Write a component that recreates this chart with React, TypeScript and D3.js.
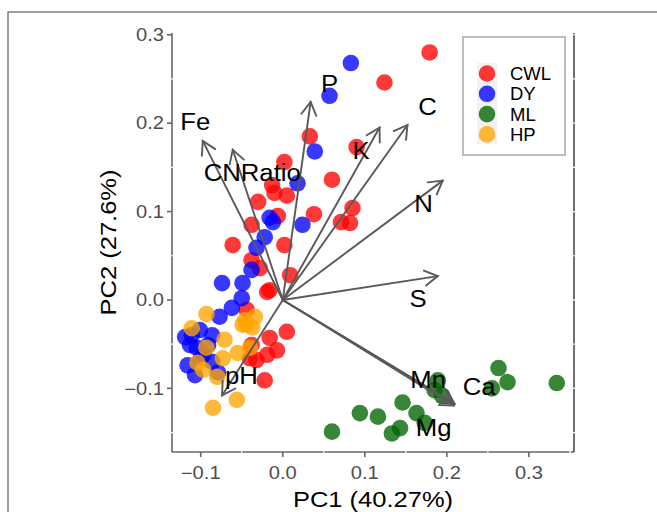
import React from 'react';
import * as d3 from 'd3';

const groups = ['CWL', 'DY', 'ML', 'HP'];
const groupColors = ['#ff0000', '#0000ff', '#006400', '#ffa500'];

const cwlPC1 = [0.179, 0.124, 0.033, 0.090, 0.060, 0.085, 0.038, 0.071, 0.082, 0.002, -0.013, -0.010, 0.005, -0.030, -0.006, -0.038, -0.061, 0.002, -0.038, -0.028, 0.009, -0.019, -0.016, -0.044, 0.005, -0.016, -0.007, -0.038, -0.019, -0.040, -0.032, -0.022];
const cwlPC2 = [0.280, 0.246, 0.185, 0.173, 0.136, 0.104, 0.097, 0.088, 0.087, 0.156, 0.130, 0.121, 0.118, 0.111, 0.095, 0.085, 0.062, 0.062, 0.045, 0.036, 0.028, 0.009, 0.011, -0.011, -0.036, -0.043, -0.057, -0.051, -0.062, -0.066, -0.068, -0.091];

const dyPC1 = [0.083, 0.057, 0.039, 0.018, 0.024, -0.016, -0.012, -0.022, -0.032, -0.038, -0.074, -0.049, -0.050, -0.062, -0.077, -0.111, -0.101, -0.086, -0.105, -0.091, -0.116, -0.107, -0.086, -0.079, -0.097, -0.113, -0.100, -0.119];
const dyPC2 = [0.268, 0.231, 0.168, 0.132, 0.085, 0.093, 0.088, 0.071, 0.059, 0.034, 0.019, 0.019, 0.002, -0.009, -0.019, -0.040, -0.034, -0.040, -0.054, -0.051, -0.074, -0.085, -0.070, -0.082, -0.062, -0.051, -0.066, -0.042];

const mlPC1 = [0.263, 0.274, 0.255, 0.334, 0.189, 0.185, 0.194, 0.146, 0.094, 0.116, 0.163, 0.173, 0.133, 0.143, 0.060];
const mlPC2 = [-0.077, -0.093, -0.100, -0.094, -0.091, -0.102, -0.108, -0.116, -0.128, -0.132, -0.128, -0.139, -0.151, -0.145, -0.149];

const hpPC1 = [-0.093, -0.034, -0.046, -0.044, -0.037, -0.111, -0.071, -0.093, -0.073, -0.055, -0.040, -0.104, -0.097, -0.080, -0.085, -0.056, -0.049];
const hpPC2 = [-0.016, -0.019, -0.023, -0.028, -0.031, -0.032, -0.045, -0.054, -0.066, -0.060, -0.054, -0.071, -0.079, -0.087, -0.122, -0.113, -0.028];

const loadingNames = ['Fe', 'CNRatio', 'P', 'K', 'C', 'N', 'S', 'Mn', 'Ca', 'Mg', 'pH'];
const loadingPC1 = [-0.0975, -0.061, 0.034, 0.118, 0.152, 0.195, 0.189, 0.2065, 0.2095, 0.2085, -0.074];
const loadingPC2 = [0.180, 0.170, 0.224, 0.195, 0.198, 0.135, 0.027, -0.1155, -0.1175, -0.1195, -0.108];
const labelPC1 = [-0.1066, -0.0372, 0.0572, 0.0956, 0.1766, 0.1717, 0.165, 0.1772, 0.2393, 0.1839, -0.0505];
const labelPC2 = [0.2022, 0.145, 0.2452, 0.170, 0.2191, 0.1093, 0.0017, -0.0895, -0.0974, -0.1438, -0.0849];

const xTicks = [-0.1, 0.0, 0.1, 0.2, 0.3];
const yTicks = [-0.1, 0.0, 0.1, 0.2, 0.3];
const minorTicks = [-0.15, -0.05, 0.05, 0.15, 0.25, 0.35];

const xTitle = 'PC1 (40.27%)';
const yTitle = 'PC2 (27.6%)';

const W = 657;
const H = 512;
const L = 172, R = 574, T = 33, B = 452;
const FONT = '"Liberation Sans", Arial, Helvetica, sans-serif';

export default function App() {
  const x = d3.scaleLinear().domain([-0.135, 0.355]).range([L, R]);
  const y = d3.scaleLinear().domain([-0.172, 0.302]).range([B, T]);
  const fmt = d3.format('.1f');

  const series = [
    { pc1: cwlPC1, pc2: cwlPC2 },
    { pc1: dyPC1, pc2: dyPC2 },
    { pc1: mlPC1, pc2: mlPC2 },
    { pc1: hpPC1, pc2: hpPC2 },
  ];

  const arrowColor = '#595959';
  const headLen = 15;
  const headAng = Math.PI / 6;

  return (
    <svg width={W} height={H} style={{ position: 'absolute', left: 0, top: 0, background: '#fff' }} fontFamily={FONT}>
      <rect x={0} y={0} width={W} height={H} fill="#fff" />
      <rect x={8} y={12} width={W + 20} height={H + 20} fill="none" stroke="#6a6a6a" strokeWidth={1.3} />

      {/* panel border lines */}
      <line x1={L} x2={L} y1={T} y2={B} stroke="#666" strokeWidth={1.6} />
      <line x1={L} x2={R} y1={B} y2={B} stroke="#666" strokeWidth={1.6} />
      <line x1={R} x2={R} y1={T} y2={B} stroke="#222" strokeWidth={1.3} />
      {/* white grid gaps over borders */}
      {minorTicks.filter(v => y(v) > T && y(v) < B).map(v => (
        <g key={'gy' + v}>
          <line x1={L - 1} x2={L + 1} y1={y(v)} y2={y(v)} stroke="#fff" strokeWidth={1.2} />
          <line x1={R - 1} x2={R + 1} y1={y(v)} y2={y(v)} stroke="#fff" strokeWidth={1.2} />
        </g>
      ))}
      {yTicks.map(v => (
        <line key={'gyr' + v} x1={R - 1} x2={R + 1} y1={y(v)} y2={y(v)} stroke="#fff" strokeWidth={1.2} />
      ))}
      {minorTicks.filter(v => x(v) > L && x(v) < R).map(v => (
        <line key={'gx' + v} x1={x(v)} x2={x(v)} y1={B - 1} y2={B + 1} stroke="#fff" strokeWidth={1.2} />
      ))}

      {/* ticks */}
      {yTicks.map(v => (
        <g key={'yt' + v}>
          <line x1={L - 5} x2={L} y1={y(v)} y2={y(v)} stroke="#666" strokeWidth={1.6} />
          <g transform={`translate(${L - 8},${y(v)}) scale(1.15,1)`}>
            <text textAnchor="end" dy="0.36em" fontSize={17.5} fill="#4d4d4d">{fmt(v)}</text>
          </g>
        </g>
      ))}
      {xTicks.map(v => (
        <g key={'xt' + v}>
          <line x1={x(v)} x2={x(v)} y1={B} y2={B + 5} stroke="#666" strokeWidth={1.6} />
          <g transform={`translate(${x(v)},${B + 27}) scale(1.15,1)`}>
            <text textAnchor="middle" fontSize={17.5} fill="#4d4d4d">{fmt(v)}</text>
          </g>
        </g>
      ))}

      {/* axis titles */}
      <g transform={`translate(${(L + R) / 2},${507}) scale(1.16,1)`}>
        <text textAnchor="middle" fontSize={22} fill="#000">{xTitle}</text>
      </g>
      <g transform={`translate(${116},${(T + B) / 2}) rotate(-90) scale(1.16,1)`}>
        <text textAnchor="middle" fontSize={22} fill="#000">{yTitle}</text>
      </g>

      {/* points */}
      {series.map((s, gi) => (
        <g key={'s' + gi}>
          {s.pc1.map((v, i) => (
            <circle key={i} cx={x(v)} cy={y(s.pc2[i])} r={8.3} fill={groupColors[gi]} fillOpacity={0.78} />
          ))}
        </g>
      ))}

      {/* loadings arrows */}
      {loadingNames.map((n, i) => {
        const x0 = x(0), y0 = y(0);
        const x1 = x(loadingPC1[i]), y1 = y(loadingPC2[i]);
        const a = Math.atan2(y1 - y0, x1 - x0);
        const w1x = x1 - headLen * Math.cos(a - headAng);
        const w1y = y1 - headLen * Math.sin(a - headAng);
        const w2x = x1 - headLen * Math.cos(a + headAng);
        const w2y = y1 - headLen * Math.sin(a + headAng);
        return (
          <g key={'a' + n} stroke={arrowColor} strokeWidth={1.9} fill="none" strokeLinecap="round">
            <line x1={x0} y1={y0} x2={x1} y2={y1} />
            <polyline points={`${w1x},${w1y} ${x1},${y1} ${w2x},${w2y}`} />
          </g>
        );
      })}
      {loadingNames.map((n, i) => (
        <g key={'l' + n} transform={`translate(${x(labelPC1[i])},${y(labelPC2[i])}) scale(1.05,1)`}>
          <text dy="0.36em" textAnchor="middle" fontSize={24.5} fill="#000">{n}</text>
        </g>
      ))}

      {/* legend */}
      <rect x={463} y={37} width={102} height={118} fill="#fff" stroke="#bdbdbd" strokeWidth={2} />
      <rect x={477} y={63} width={20} height={81} fill="#f2f2f2" />
      {groups.map((g, i) => (
        <g key={'lg' + g}>
          <circle cx={487} cy={73.5 + i * 20.3} r={8.3} fill={groupColors[i]} fillOpacity={0.78} />
          <text x={510} y={73.5 + i * 20.3} dy="0.36em" fontSize={18.5} fill="#000">{g}</text>
        </g>
      ))}
    </svg>
  );
}
